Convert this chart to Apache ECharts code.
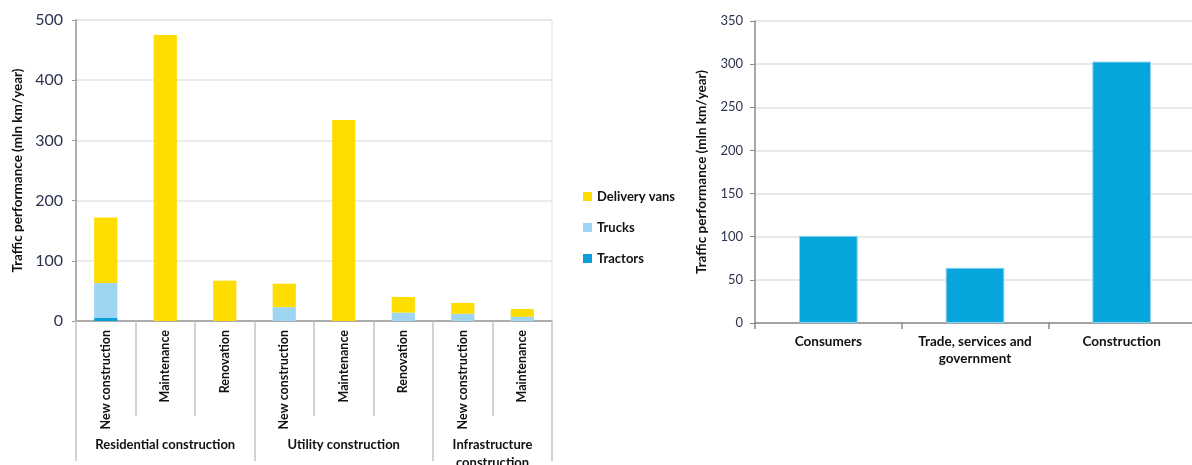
<!DOCTYPE html>
<html>
<head>
<meta charset="utf-8">
<script src="https://cdn.jsdelivr.net/npm/echarts@6/dist/echarts.min.js"></script>
<style>
  html, body { margin: 0; padding: 0; background: #fff; }
  #chart { width: 1192px; height: 465px; }
</style>
</head>
<body>
<div id="chart"></div>
<script>
// Left panel: traffic performance by construction activity, stacked by vehicle type
const activities = ['New construction', 'Maintenance', 'Renovation',
                    'New construction', 'Maintenance', 'Renovation',
                    'New construction', 'Maintenance'];
const sectorGroups = ['Residential construction', 'Utility construction', 'Infrastructure\nconstruction'];
const groupBounds = [0, 3, 6, 8];
const tractors = [5, 0, 0, 0, 0, 0, 0, 0];
const trucks = [58, 0, 0, 23, 0, 14, 12, 7];
const deliveryVans = [109, 475, 67, 39, 334, 26, 18, 13];

// Right panel: traffic performance by user sector
const sectors = ['Consumers', 'Trade, services and\ngovernment', 'Construction'];
const sectorTraffic = [101, 64, 303];

const leftTicks = [0, 100, 200, 300, 400, 500];
const rightTicks = [0, 50, 100, 150, 200, 250, 300, 350];

const axisName = 'Traffic performance (mln km/year)';
const FONT = 'Lato';
const groupCenters = sectorGroups.map((g, i) => (groupBounds[i] + groupBounds[i + 1]) / 2);

const chart = echarts.init(document.getElementById('chart'));
chart.setOption({
  animation: false,
  textStyle: { fontFamily: FONT },
  legend: {
    orient: 'vertical',
    left: 578,
    top: 185,
    itemWidth: 9,
    itemHeight: 9,
    itemGap: 18,
    icon: 'rect',
    data: ['Delivery vans', 'Trucks', 'Tractors'],
    textStyle: { fontFamily: FONT, fontWeight: 'bold', fontSize: 13, color: '#111' }
  },
  grid: [
    { left: 76, top: 20, width: 476, height: 301, containLabel: false, outerBoundsMode: 'none',
      show: true, borderColor: '#e2e2e2', borderWidth: 1 },
    { left: 755, top: 21, width: 440, height: 302, containLabel: false, outerBoundsMode: 'none' }
  ],
  xAxis: [
    {
      gridIndex: 0,
      type: 'category',
      data: activities,
      axisLine: { lineStyle: { color: '#9a9a9a', width: 1.5 } },
      axisTick: { show: true, interval: 0, length: 95, lineStyle: { color: '#c4c4c4', width: 1.5 } },
      axisLabel: {
        interval: 0, rotate: 90, margin: 9,
        fontFamily: FONT, fontWeight: 'bold', fontSize: 12.5, color: '#111'
      }
    },
    {
      gridIndex: 0,
      type: 'value',
      min: 0,
      max: 8,
      position: 'bottom',
      offset: 95,
      axisLine: { show: false },
      splitLine: { show: false },
      axisTick: { show: true, customValues: groupBounds, length: 45, lineStyle: { color: '#c4c4c4', width: 1.5 } },
      axisLabel: {
        customValues: groupCenters,
        margin: 20,
        lineHeight: 18,
        fontFamily: FONT, fontWeight: 'bold', fontSize: 13, color: '#111',
        formatter: function (v) {
          const i = groupCenters.indexOf(v);
          return i >= 0 ? sectorGroups[i] : '';
        }
      }
    },
    {
      gridIndex: 1,
      type: 'category',
      data: sectors,
      axisLine: { lineStyle: { color: '#8a8a8a', width: 1.5 } },
      axisTick: { show: true, interval: 0, length: 6, lineStyle: { color: '#8a8a8a', width: 1.5 } },
      axisLabel: {
        interval: 0, margin: 10, lineHeight: 17,
        fontFamily: FONT, fontWeight: 'bold', fontSize: 13.5, color: '#111'
      }
    }
  ],
  yAxis: [
    {
      gridIndex: 0,
      type: 'value',
      min: leftTicks[0],
      max: leftTicks[leftTicks.length - 1],
      interval: 100,
      name: axisName,
      nameLocation: 'middle',
      nameGap: 51,
      nameTextStyle: { fontFamily: FONT, fontWeight: 'bold', fontSize: 13.5, color: '#111' },
      axisLine: { show: true, lineStyle: { color: '#9a9a9a', width: 1.5 } },
      axisTick: { show: true, length: 4, lineStyle: { color: '#9a9a9a' } },
      axisLabel: { margin: 13, fontFamily: FONT, fontSize: 16, color: '#2e3350' },
      splitLine: { lineStyle: { color: '#e4e4e4', width: 1.5 } }
    },
    {
      gridIndex: 1,
      type: 'value',
      min: rightTicks[0],
      max: rightTicks[rightTicks.length - 1],
      interval: 50,
      name: axisName,
      nameLocation: 'middle',
      nameGap: 46,
      nameTextStyle: { fontFamily: FONT, fontWeight: 'bold', fontSize: 13.5, color: '#111' },
      axisLine: { show: true, lineStyle: { color: '#8a8a8a', width: 1.5 } },
      axisTick: { show: true, length: 5, lineStyle: { color: '#8a8a8a' } },
      axisLabel: { margin: 12, fontFamily: FONT, fontSize: 13, color: '#2e3350' },
      splitLine: { lineStyle: { color: '#e0e0e0', width: 1.5 } }
    }
  ],
  series: [
    {
      name: 'Tractors', type: 'bar', stack: 'veh', xAxisIndex: 0, yAxisIndex: 0,
      barWidth: '39%', data: tractors, itemStyle: { color: '#0a9fd8' }
    },
    {
      name: 'Trucks', type: 'bar', stack: 'veh', xAxisIndex: 0, yAxisIndex: 0,
      barWidth: '39%', data: trucks, itemStyle: { color: '#9dd5f2' }
    },
    {
      name: 'Delivery vans', type: 'bar', stack: 'veh', xAxisIndex: 0, yAxisIndex: 0,
      barWidth: '39%', data: deliveryVans, itemStyle: { color: '#ffdd00' }
    },
    {
      name: 'Sector', type: 'bar', xAxisIndex: 2, yAxisIndex: 1,
      barWidth: '40%', data: sectorTraffic,
      itemStyle: { color: '#06a6dc', borderColor: '#8fd4ef', borderWidth: 1 }
    }
  ]
});
</script>
</body>
</html>
